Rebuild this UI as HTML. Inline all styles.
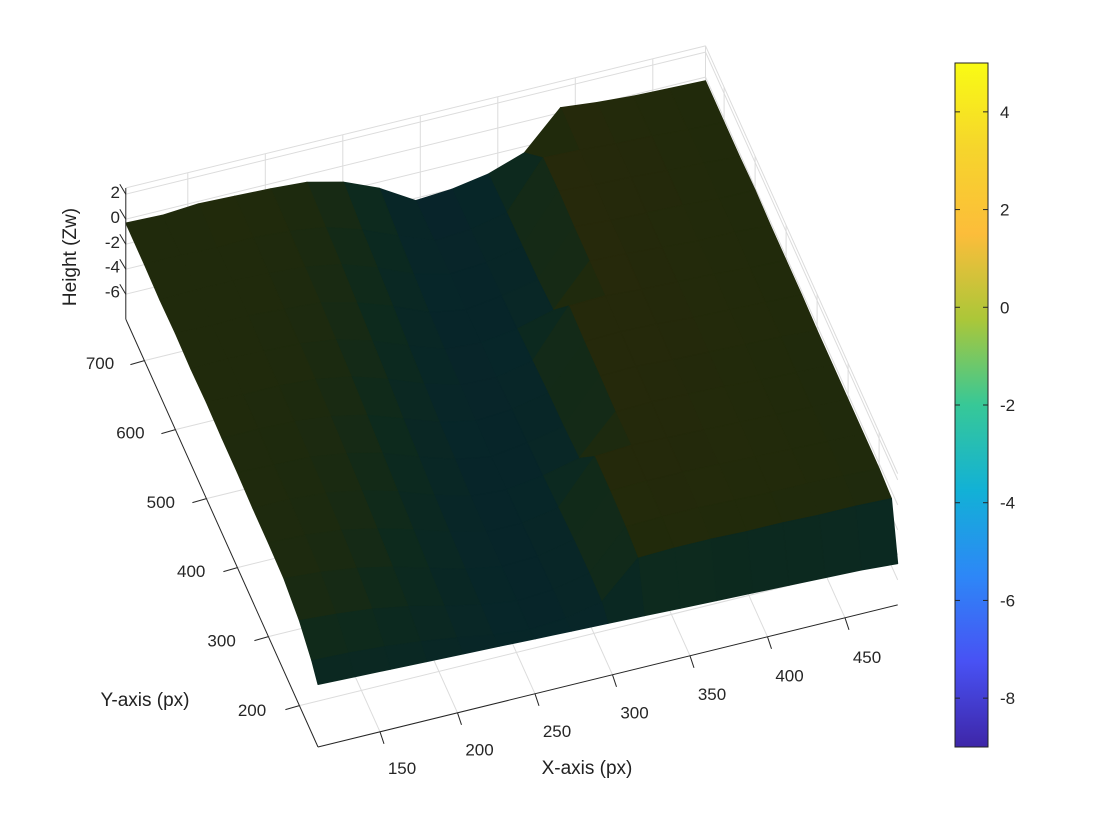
<!DOCTYPE html>
<html><head><meta charset="utf-8"><title>Surface height map</title>
<style>
html,body{margin:0;padding:0;background:#fff;}
svg{display:block;font-family:"Liberation Sans",sans-serif;}
</style></head>
<body>
<svg id="chart" width="1120" height="840" viewBox="0 0 1120 840" xmlns="http://www.w3.org/2000/svg">
<defs>
<linearGradient id="parula" x1="0" y1="1" x2="0" y2="0">
<stop offset="0" stop-color="#3e26a8"/><stop offset="0.125" stop-color="#4852f4"/>
<stop offset="0.25" stop-color="#2d87f7"/><stop offset="0.375" stop-color="#12b1d6"/>
<stop offset="0.5" stop-color="#37c897"/><stop offset="0.625" stop-color="#abc739"/>
<stop offset="0.75" stop-color="#fcbd3a"/><stop offset="0.875" stop-color="#f6d52c"/>
<stop offset="1" stop-color="#f9fb14"/>
</linearGradient>
</defs>
<g id="floor"></g>
<g id="walls"></g>
<g id="surface"></g>
<g id="axes"></g>
<g id="colorbar">
<rect x="955" y="63" width="33" height="684" fill="url(#parula)" stroke="#222" stroke-width="1"/>
</g>
<text x="587" y="774" font-size="19" text-anchor="middle" fill="#222">X-axis (px)</text>
<text x="145" y="706" font-size="19" text-anchor="middle" fill="#222">Y-axis (px)</text>
<text x="0" y="0" font-size="19" text-anchor="middle" fill="#222" transform="translate(76,257) rotate(-90)">Height (Zw)</text>
</svg>
<script>
const xTicks=[150,200,250,300,350,400,450];
const yTicks=[200,300,400,500,600,700];
const zTicks=[2,0,-2,-4,-6];
const cbTicks=[4,2,0,-2,-4,-6,-8];
const xGrid=[110,133.4,156.8,180.1,203.5,226.9,250.3,273.6,297,320.4,343.8,367.1,390.5,413.9,437.3,460.6,484];
const yGrid=[140,160,200,250,300,350,400,450,500,550,600,650,700,760];
const zRows=[
[-3.0,-3.1,-3.2,-3.3,-3.4,-3.5,-3.6,-3.7,-3.8,-3.9,-4.0,-4.1,-4.2,-4.3,-4.4,-4.5,-4.7],
[-2.2,-2.3,-2.5,-2.8,-3.2,-3.7,-4.0,-3.8,-3.2,-0.4,-0.3,-0.3,-0.4,-0.4,-0.5,-0.5,-0.6],
[-1.2,-1.4,-1.7,-2.2,-2.9,-3.5,-3.9,-3.7,-3.1,-0.1,0.0,0.0,-0.1,-0.2,-0.2,-0.3,-0.4],
[-0.6,-0.8,-1.2,-1.8,-2.6,-3.4,-3.9,-3.8,-3.2,0.0,0.1,0.1,0.0,-0.1,-0.2,-0.3,-0.4],
[-0.5,-0.6,-0.9,-1.5,-2.3,-3.2,-3.9,-3.9,-3.4,0.0,0.2,0.1,0.0,-0.1,-0.2,-0.3,-0.4],
[-0.5,-0.5,-0.7,-1.2,-2.0,-3.0,-3.8,-4.0,-3.6,-2.9,0.1,0.2,0.1,0.0,-0.2,-0.3,-0.4],
[-0.4,-0.5,-0.6,-1.0,-1.7,-2.7,-3.6,-4.1,-3.7,-3.1,0.2,0.3,0.1,0.0,-0.1,-0.2,-0.4],
[-0.4,-0.4,-0.5,-0.8,-1.4,-2.4,-3.4,-4.0,-3.8,-3.2,0.2,0.3,0.2,0.0,-0.1,-0.2,-0.3],
[-0.3,-0.4,-0.4,-0.6,-1.1,-2.0,-3.1,-3.9,-4.0,-3.4,0.3,0.4,0.2,0.1,0.0,-0.2,-0.3],
[-0.4,-0.3,-0.4,-0.5,-0.9,-1.7,-2.8,-3.8,-4.0,-3.6,-2.8,0.4,0.3,0.1,-0.1,-0.1,-0.3],
[-0.3,-0.4,-0.3,-0.5,-0.7,-1.4,-2.4,-3.6,-4.1,-3.7,-3.1,0.4,0.2,0.1,0.0,-0.2,-0.2],
[-0.4,-0.3,-0.3,-0.4,-0.6,-1.1,-2.1,-3.3,-4.0,-3.8,-3.2,0.5,0.3,0.2,0.0,-0.1,-0.3],
[-0.3,-0.3,-0.4,-0.3,-0.5,-0.9,-1.8,-3.0,-4.1,-3.9,-3.3,0.4,0.3,0.1,0.0,-0.2,-0.3],
[-0.3,-0.4,-0.2,-0.3,-0.4,-0.6,-1.3,-2.5,-4.2,-4.0,-3.5,-2.5,0.4,0.1,-0.1,-0.2,-0.3]
];
const NS="http://www.w3.org/2000/svg";
const XMIN=110,XMAX=484,YMIN=140,YMAX=760,ZMIN=-8,ZMAX=2.5,CMIN=-9,CMAX=5;
function P(x,y,z){return [318+(x-XMIN)*1.55-(y-YMIN)*0.31, 747-(x-XMIN)*0.38-(y-YMIN)*0.69-(z-ZMIN)*12.5];}
const par=[[62,38,168],[72,82,244],[45,135,247],[18,177,214],[55,200,151],[171,199,57],[252,189,58],[246,213,44],[249,251,20]];
function parula(z){let t=Math.max(0,Math.min(1,(z-CMIN)/(CMAX-CMIN)))*8;let i=Math.min(7,Math.floor(t)),f=t-i;return par[i].map((c,k)=>c+(par[i+1][k]-c)*f);}
function mk(tag,attrs,parent){const e=document.createElementNS(NS,tag);for(const k in attrs)e.setAttribute(k,attrs[k]);parent.appendChild(e);return e;}
function line(a,b,col,w,parent,name){const e=mk('line',{x1:a[0],y1:a[1],x2:b[0],y2:b[1],stroke:col,'stroke-width':w},parent);


return e;}
const floor=document.getElementById('floor'),walls=document.getElementById('walls'),surf=document.getElementById('surface'),axes=document.getElementById('axes'),cb=document.getElementById('colorbar');
const gc='#dcdcdc';
xTicks.forEach(v=>{line(P(v,YMIN,ZMIN),P(v,YMAX,ZMIN),gc,1,floor,'floor-grid-x');line(P(v,YMAX,ZMIN),P(v,YMAX,ZMAX),gc,1,walls,'wall-grid-x');});
yTicks.forEach(v=>{line(P(XMIN,v,ZMIN),P(XMAX,v,ZMIN),gc,1,floor,'floor-grid-y');line(P(XMAX,v,ZMIN),P(XMAX,v,ZMAX),gc,1,walls,'wall-grid-y');});
zTicks.forEach(v=>{line(P(XMIN,YMAX,v),P(XMAX,YMAX,v),gc,1,walls,'wall-grid-z');line(P(XMAX,YMAX,v),P(XMAX,YMIN,v),gc,1,walls,'wall-grid-z');});
line(P(XMIN,YMAX,ZMAX),P(XMAX,YMAX,ZMAX),gc,1,walls,'wall-top-edge');
line(P(XMAX,YMAX,ZMAX),P(XMAX,YMIN,ZMAX),gc,1,walls,'wall-top-edge');
line(P(XMAX,YMAX,ZMIN),P(XMAX,YMAX,ZMAX),gc,1,walls,'wall-corner-edge');
const quads=[];
for(let j=0;j<yGrid.length-1;j++)for(let i=0;i<xGrid.length-1;i++){
 const c=[[i,j],[i+1,j],[i+1,j+1],[i,j+1]];
 const pts=c.map(([a,b])=>P(xGrid[a],yGrid[b],zRows[b][a]));
 const zAvg=c.reduce((s,[a,b])=>s+zRows[b][a],0)/4;
 const depth=((xGrid[i]+xGrid[i+1])/2-XMIN)*0.38+((yGrid[j]+yGrid[j+1])/2-YMIN)*0.69;
 quads.push({pts,zAvg,depth});}
quads.sort((a,b)=>b.depth-a.depth);
quads.forEach(q=>{const c=parula(q.zAvg);const col=[Math.round(c[0]*0.17+4),Math.round(c[1]*0.19+4),Math.round(c[2]*0.19)];const fill=`rgb(${col[0]},${col[1]},${col[2]})`;
 const e=mk('polygon',{points:q.pts.map(p=>p[0].toFixed(1)+','+p[1].toFixed(1)).join(' '),fill:fill,stroke:fill,'stroke-width':1,'stroke-linejoin':'round'},surf);
 
 });
line(P(XMIN,YMIN,ZMIN),P(XMAX,YMIN,ZMIN),'#262626',1,axes,'x-axis-line');
line(P(XMIN,YMIN,ZMIN),P(XMIN,YMAX,ZMIN),'#262626',1,axes,'y-axis-line');
line(P(XMIN,YMAX,ZMIN),P(XMIN,YMAX,ZMAX),'#262626',1,axes,'z-axis-line');
function txt(s,x,y,anchor,name,parent){const e=mk('text',{x:x,y:y,'font-size':17,'text-anchor':anchor,fill:'#262626'},parent);e.textContent=s;

return e;}
xTicks.forEach(v=>{const a=P(v,YMIN,ZMIN);line(a,[a[0]+4,a[1]+12],'#262626',1,axes,'x-tick');
 txt(String(v),402+(v-150)*1.55,774-(v-150)*0.37,'middle','x-tick-label',axes);});
yTicks.forEach(v=>{const a=P(XMIN,v,ZMIN);line(a,[a[0]-14,a[1]+4],'#262626',1,axes,'y-tick');
 txt(String(v),252-(v-200)*0.304,716-(v-200)*0.694,'middle','y-tick-label',axes);});
zTicks.forEach(v=>{const a=P(XMIN,YMAX,v);line(a,[a[0]-6,a[1]-10],'#262626',1,axes,'z-tick');
 txt(String(v),120,223-v*12.4,'end','z-tick-label',axes);});
function cbY(v){return 63+(CMAX-v)/(CMAX-CMIN)*684;}
cbTicks.forEach(v=>{const y=cbY(v);line([955,y],[960,y],'#262626',1,cb,'colorbar-tick');line([983,y],[988,y],'#262626',1,cb,'colorbar-tick');
 txt(String(v),1000,y+6,'start','colorbar-tick-label',cb);});
</script>
</body></html>
